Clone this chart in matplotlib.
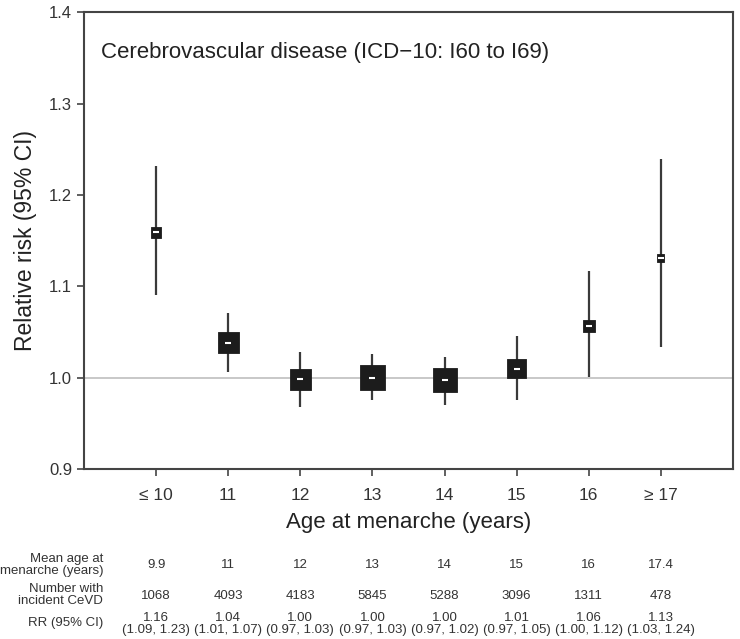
import numpy as np
import matplotlib
matplotlib.use("Agg")
from matplotlib import pyplot as plt
from matplotlib import transforms

plt.rcParams['font.family'] = ['Liberation Sans', 'DejaVu Sans']

# data
ages = ["\u2264 10", "11", "12", "13", "14", "15", "16", "\u2265 17"]
mean_age = ["9.9", "11", "12", "13", "14", "15", "16", "17.4"]
n_cases = [1068, 4093, 4183, 5845, 5288, 3096, 1311, 478]
rr = [1.16, 1.04, 1.00, 1.00, 1.00, 1.01, 1.06, 1.13]
rr_plot = [1.159, 1.038, 0.998, 1.000, 0.997, 1.010, 1.057, 1.131]
ci_low = [1.09, 1.01, 0.97, 0.97, 0.97, 0.97, 1.00, 1.03]
ci_high = [1.23, 1.07, 1.03, 1.03, 1.02, 1.05, 1.12, 1.24]
ci_plot_low = [1.090, 1.006, 0.968, 0.975, 0.970, 0.975, 1.001, 1.033]
ci_plot_high = [1.232, 1.071, 1.028, 1.026, 1.023, 1.046, 1.117, 1.239]

fig = plt.figure(figsize=(7.4, 6.39), dpi=100)
ax = fig.add_axes([0.1135, 0.266, 0.877, 0.715])

x = np.arange(1, len(ages) + 1)

ax.axhline(1.0, color='#c4c4c4', lw=1.3, zorder=1)
ax.vlines(x, ci_plot_low, ci_plot_high, color='#3a3a3a', lw=1.6, zorder=2)

# box area proportional to number of cases
side_px = 0.33 * np.sqrt(n_cases)
side_pt = side_px * 72 / 100
ax.scatter(x, rr_plot, marker='s', s=side_pt**2, color='#1c1c1c',
           edgecolors='#1c1c1c', linewidths=0.6, zorder=3)
ax.scatter(x, rr_plot, marker='_', s=22, color='white', linewidths=1.5, zorder=4)

ax.set_xlim(0, 9)
ax.set_ylim(0.9, 1.4)
ax.set_xticks(x)
ax.set_xticklabels(ages, fontsize=12.5, color='#333333')
ax.set_yticks([0.9, 1.0, 1.1, 1.2, 1.3, 1.4])
ax.set_yticklabels(["0.9", "1.0", "1.1", "1.2", "1.3", "1.4"], fontsize=12, color='#333333')
ax.tick_params(axis='both', direction='out', length=5, width=1.2, color='#444444')
ax.tick_params(axis='x', pad=9)
for s in ax.spines.values():
    s.set_color('#444444')
    s.set_linewidth(1.5)

ax.set_xlabel("Age at menarche (years)", fontsize=16, color='#222222', labelpad=6)
ax.set_ylabel("Relative risk (95% CI)", fontsize=16.5, color='#222222', labelpad=9)

ax.text(0.026, 0.912, "Cerebrovascular disease (ICD\u221210: I60 to I69)",
        transform=ax.transAxes, fontsize=16, color='#222222', va='center', ha='left')

# table under the chart
tr = transforms.blended_transform_factory(ax.transData, fig.transFigure)

def fy(py):
    return 1 - py / 639.0

lab_x = 103 / 740.0
fs = 9.5
col = '#333333'
fig.text(lab_x, fy(565), "Mean age at\nmenarche (years)", ha='right', va='center',
         fontsize=fs, color=col, linespacing=1.1)
fig.text(lab_x, fy(595), "Number with\nincident CeVD", ha='right', va='center',
         fontsize=fs, color=col, linespacing=1.1)
fig.text(lab_x, fy(623), "RR (95% CI)", ha='right', va='center', fontsize=fs, color=col)

for i in range(len(ages)):
    ax.text(x[i], fy(565), mean_age[i], transform=tr, ha='center', va='center',
            fontsize=fs, color=col)
    ax.text(x[i], fy(596), str(n_cases[i]), transform=tr, ha='center', va='center',
            fontsize=fs, color=col)
    ax.text(x[i], fy(624), "%.2f\n(%.2f, %.2f)" % (rr[i], ci_low[i], ci_high[i]),
            transform=tr, ha='center', va='center', fontsize=fs, color=col,
            linespacing=1.05)

fig.savefig("out.png", dpi=100)
